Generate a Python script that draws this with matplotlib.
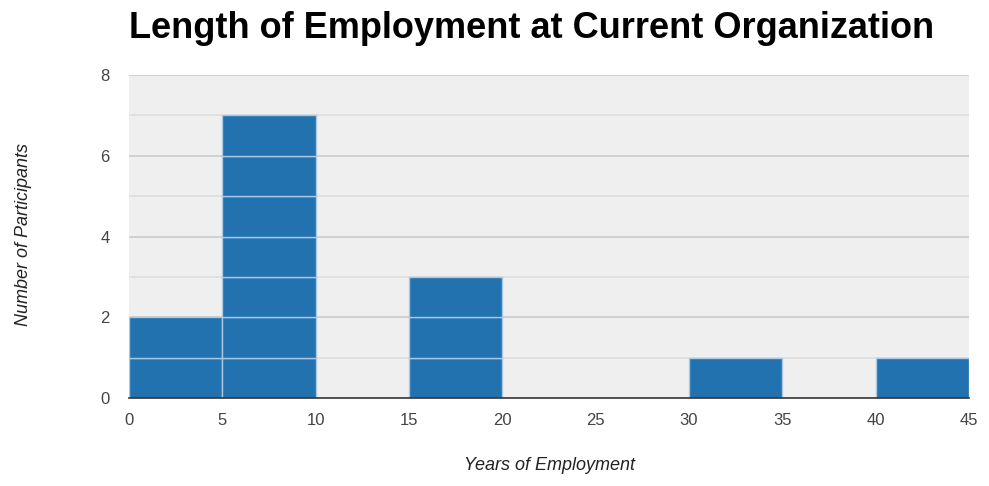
import matplotlib.pyplot as plt
import numpy as np

# Histogram of years at current organization
bin_edges = [0, 5, 10, 15, 20, 25, 30, 35, 40, 45]
counts = [2, 7, 0, 3, 0, 0, 1, 0, 1]
x_ticks = [0, 5, 10, 15, 20, 25, 30, 35, 40, 45]
y_ticks = [0, 2, 4, 6, 8]

plt.rcParams['font.family'] = ['Liberation Sans', 'DejaVu Sans']

fig = plt.figure(figsize=(9.89, 4.86), dpi=100)
ax = fig.add_axes([0.1304, 0.181, 0.8494, 0.6647])
ax.set_facecolor('#efefef')

# stacked unit blocks give the segmented look of each bar
for i, c in enumerate(counts):
    left = bin_edges[i]
    width = bin_edges[i + 1] - bin_edges[i]
    for k in range(c):
        ax.bar(left, 1, width=width, bottom=k, align='edge',
               color='#2272b0', edgecolor='#a8c8e4', linewidth=1.0, zorder=3)

# grid lines
for y in range(1, 9):
    col = '#cbcbcb' if y % 2 == 0 else '#dedede'
    ax.axhline(y, color=col, linewidth=1.2, zorder=1)

ax.set_xlim(0, 45)
ax.set_ylim(0, 8)
ax.set_xticks(x_ticks)
ax.set_yticks(y_ticks)
ax.tick_params(length=0, labelsize=12, colors='#444444', pad=11)
ax.tick_params(axis='y', pad=14)
for s in ['top', 'right', 'left']:
    ax.spines[s].set_visible(False)
ax.spines['bottom'].set_color('#333333')
ax.spines['bottom'].set_linewidth(1.2)
ax.spines['bottom'].set_zorder(4)

fig.text(0.537, 0.942, 'Length of Employment at Current Organization',
         ha='center', va='center', fontsize=26, fontweight='bold', color='#000000')
fig.text(0.556, 0.043, 'Years of Employment', ha='center', va='center',
         fontsize=13, style='italic', color='#222222')
fig.text(0.024, 0.517, 'Number of Participants', ha='center', va='center',
         rotation=90, fontsize=13, style='italic', color='#222222')

fig.savefig('out.png', dpi=100)
